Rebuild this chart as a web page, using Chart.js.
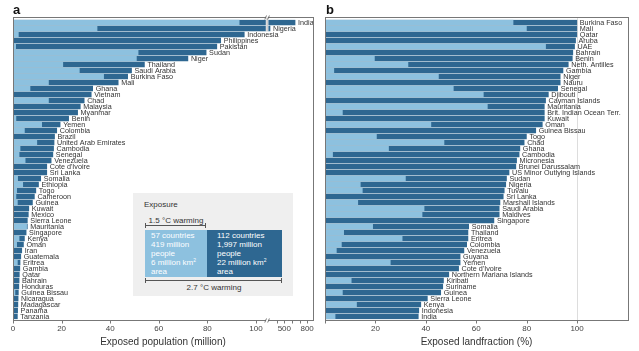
<!DOCTYPE html>
<html>
<head>
<meta charset="utf-8">
<script src="https://cdn.jsdelivr.net/npm/chart.js@4.4.0/dist/chart.umd.min.js"></script>
<style>
  body { margin: 0; background: #fff; font-family: "Liberation Sans", Arial, sans-serif; }
  #wrap { position: relative; width: 639px; height: 351px; overflow: hidden; }
  #cA { position: absolute; left: 0; top: 0; }
  #cB { position: absolute; left: 320px; top: 0; }
  .letter { position: absolute; top: 2px; font-weight: bold; font-size: 13px; color: #111; }
  .abs { position: absolute; }
  #legend { left: 133px; top: 193px; width: 160px; height: 103px; background: #efefef; }
  .txt { position: absolute; font-size: 8px; line-height: 10px; color: #333; white-space: nowrap; }
  .box { position: absolute; top: 230px; height: 47px; color: #fff; font-size: 8px; line-height: 9px; box-sizing: border-box; padding-top: 1px; white-space: nowrap; }
  .box sup { font-size: 5px; vertical-align: 3px; line-height: 0; }
  .brk { position: absolute; height: 0; border-top: 1px solid #555; }
  .brk::before, .brk::after { content: ""; position: absolute; top: -3px; width: 0; height: 5px; border-left: 1px solid #555; }
  .brk::before { left: 0; }
  .brk::after { right: 0; }
</style>
</head>
<body>
<div id="wrap">
  <canvas id="cA" width="320" height="351"></canvas>
  <canvas id="cB" width="319" height="351"></canvas>
  <div class="letter" style="left:13px">a</div>
  <div class="letter" style="left:326px">b</div>

  <div id="legend" class="abs"></div>
  <div class="txt" style="left:144px;top:200px">Exposure</div>
  <div class="txt" style="left:145px;width:62px;top:216px;text-align:center">1.5 °C warming</div>
  <div class="brk" style="left:145px;width:61px;top:225px"></div>
  <div class="box" id="boxLight" style="left:145px;width:62px;padding-left:6px"></div>
  <div class="box" id="boxDark" style="left:207px;width:75px;padding-left:10px"></div>
  <div class="brk" style="left:145px;width:137px;top:280px"></div>
  <div class="txt" style="left:145px;width:138px;top:283px;text-align:center">2.7 °C warming</div>
</div>

<script>
// panel a: exposed population, million people
const countriesA = ["India", "Nigeria", "Indonesia", "Philippines", "Pakistan", "Sudan", "Niger", "Thailand",
  "Saudi Arabia", "Burkina Faso", "Mali", "Ghana", "Vietnam", "Chad", "Malaysia", "Myanmar", "Benin", "Yemen",
  "Colombia", "Brazil", "United Arab Emirates", "Cambodia", "Senegal", "Venezuela", "Cote d'Ivoire", "Sri Lanka",
  "Somalia", "Ethiopia", "Togo", "Cameroon", "Guinea", "Kuwait", "Mexico", "Sierra Leone", "Mauritania",
  "Singapore", "Kenya", "Oman", "Iran", "Guatemala", "Eritrea", "Gambia", "Qatar", "Bahrain", "Honduras",
  "Guinea Bissau", "Nicaragua", "Madagascar", "Panama", "Tanzania"];
const warm15A = [93.1, 34.6, 2.2, 0, 1.1, 51.5, 50.8, 20.5, 27.3, 37.3, 14.6, 7, 0, 14.6, 0, 0, 1.2, 11.8,
  4.7, 0, 9.8, 2.9, 2.5, 5, 0, 0, 1.9, 4, 1.5, 1.2, 1.8, 0, 0, 0, 5.6, 0, 2.5, 1.5, 0, 0, 1.8, 0, 0, 0, 0,
  0.8, 0, 0, 0, 0];
const warm27A = [641, 311.6, 95.2, 85.5, 83.9, 79.5, 72, 54.1, 48.8, 47.2, 43.3, 32.8, 32.2, 29.3, 27.7, 26.6,
  22.9, 19.4, 18, 17.1, 16.9, 16.7, 16.4, 15.7, 13.9, 13.9, 11.4, 10.5, 9.4, 8.8, 8, 6.5, 6.3, 5.9, 5.9, 5.4,
  4.7, 4.3, 3.6, 3.2, 2.9, 2.8, 2.6, 2.5, 2.4, 2.2, 2.1, 2.0, 1.9, 1.8];
const tickValsA = [0, 20, 40, 60, 80, 100, 400, 500, 600, 700, 800];
const tickLabelsA = ["0", "20", "40", "60", "80", "100", "", "500", "", "", "800"];

// panel b: exposed land fraction, %
const countriesB = ["Burkina Faso", "Mali", "Qatar", "Aruba", "UAE", "Bahrain", "Benin", "Neth. Antilles",
  "Gambia", "Niger", "Nauru", "Senegal", "Djibouti", "Cayman Islands", "Mauritania", "Brit. Indian Ocean Terr.",
  "Kuwait", "Oman", "Guinea Bissau", "Togo", "Chad", "Ghana", "Cambodia", "Micronesia", "Brunei Darussalam",
  "US Minor Outlying Islands", "Sudan", "Nigeria", "Tuvalu", "Sri Lanka", "Marshall Islands", "Saudi Arabia",
  "Maldives", "Singapore", "Somalia", "Thailand", "Eritrea", "Colombia", "Venezuela", "Guyana", "Yemen",
  "Cote d'Ivoire", "Northern Mariana Islands", "Kiribati", "Suriname", "Guinea", "Sierra Leone", "Kenya",
  "Indonesia", "India"];
const warm15B = [74.6, 79.9, 0, 0, 87.5, 0, 19.6, 32.9, 3.5, 45, 0, 50.9, 62.8, 0, 64.4, 6.9, 0, 42, 0, 20.4,
  47.2, 25.2, 3, 0, 0, 0, 31.9, 14, 14.8, 0, 13, 39.3, 38.5, 0, 18.9, 7.4, 30.6, 6.5, 4.5, 0, 25.9, 0, 0,
  10.4, 0, 6.9, 0, 12.5, 0, 4];
const warm27B = [99.9, 99.9, 99.9, 99.4, 99, 98.3, 98.1, 96.5, 94.4, 93.3, 93.3, 92.3, 88.6, 87.5, 87, 87, 87,
  86.2, 83.6, 79.9, 79, 77.3, 77, 76, 75.7, 73, 72, 71.7, 71.1, 70.7, 69.4, 69.1, 69.1, 67, 57, 56.7, 56.7,
  56.2, 55.1, 53.6, 53.6, 53, 49.1, 47, 46.7, 45.9, 40.6, 38, 37.2, 37];
const tickValsB = [0, 20, 40, 60, 80, 100];
const tickLabelsB = ["", "20", "40", "60", "80", "100"];

// legend box text
const legendLight = ["57 countries", "419 million", "people", "6 million km<sup>2</sup>", "area"];
const legendDark = ["112 countries", "1,997 million", "people", "22 million km<sup>2</sup>", "area"];

const LIGHT = "#8dc1df";
const DARK = "#2e6791";
const FONT = '"Liberation Sans", Arial, sans-serif';

document.getElementById("boxLight").innerHTML = legendLight.join("<br>");
document.getElementById("boxDark").innerHTML = legendDark.join("<br>");
document.getElementById("boxLight").style.background = LIGHT;
document.getElementById("boxDark").style.background = DARK;

// broken x axis of panel a: linear up to 105, then compressed from 286 on
const BRK_LO = 105, BRK_HI = 286, BRK_K = 0.0313;
function toAxis(v) {
  return v <= BRK_LO ? v : BRK_LO + Math.max(0, v - BRK_HI) * BRK_K;
}

function barLabels(names) {
  return {
    id: "barLabels",
    afterDatasetsDraw(chart) {
      const ctx = chart.ctx;
      const meta = chart.getDatasetMeta(1);
      ctx.save();
      ctx.font = "7.2px " + FONT;
      ctx.fillStyle = "#333";
      ctx.textBaseline = "middle";
      meta.data.forEach((bar, i) => ctx.fillText(names[i], bar.x + 3, bar.y + 0.5));
      ctx.restore();
    }
  };
}

// frame round the plot, a little outside the bars, plus tick marks
function frameEdges(a) {
  return { top: Math.floor(a.top - 2) + 0.5, bot: Math.floor(a.bottom + 1) + 0.5 };
}

function framePlugin(tickPos, gridAt) {
  return {
    id: "frame",
    beforeDatasetsDraw(chart) {
      if (gridAt == null) return;
      const a = chart.chartArea, ctx = chart.ctx, e = frameEdges(a);
      const x = Math.round(chart.scales.x.getPixelForValue(gridAt)) + 0.5;
      ctx.save();
      ctx.strokeStyle = "#ddd";
      ctx.lineWidth = 1;
      ctx.beginPath();
      ctx.moveTo(x, e.top);
      ctx.lineTo(x, e.bot);
      ctx.stroke();
      ctx.restore();
    },
    afterDraw(chart) {
      const a = chart.chartArea, ctx = chart.ctx, e = frameEdges(a);
      ctx.save();
      ctx.strokeStyle = "#777";
      ctx.lineWidth = 1;
      ctx.strokeRect(Math.round(a.left) + 0.5, e.top, Math.round(a.right - a.left), e.bot - e.top);
      ctx.beginPath();
      tickPos.forEach(v => {
        const x = Math.round(chart.scales.x.getPixelForValue(v)) + 0.5;
        ctx.moveTo(x, e.bot);
        ctx.lineTo(x, e.bot + 3);
      });
      ctx.stroke();
      ctx.restore();
    }
  };
}

const breakPlugin = {
  id: "axisBreak",
  afterDraw(chart) {
    const a = chart.chartArea, ctx = chart.ctx, e = frameEdges(a);
    const x = chart.scales.x.getPixelForValue(104.6);
    const bars = chart.getDatasetMeta(1).data;
    ctx.save();
    ctx.fillStyle = "#fff";
    ctx.fillRect(x - 1.3, e.top - 1, 2.6, bars[1].y + 3 - e.top + 1);
    ctx.fillRect(x - 1.3, e.bot - 1, 2.6, 2);
    ctx.strokeStyle = "#999";
    ctx.lineWidth = 0.8;
    ctx.beginPath();
    ctx.moveTo(x, e.top);
    ctx.lineTo(x, bars[1].y + 2.5);
    ctx.stroke();
    ctx.strokeStyle = "#555";
    ctx.beginPath();
    [e.top, e.bot].forEach(y => {
      ctx.moveTo(x - 2.3, y + 2); ctx.lineTo(x - 0.6, y - 2);
      ctx.moveTo(x + 0.6, y + 2); ctx.lineTo(x + 2.3, y - 2);
    });
    ctx.stroke();
    ctx.restore();
  }
};

function makeChart(id, names, lightVals, darkVals, xMax, tickVals, tickLabels, title, pad, extra) {
  const ctx = document.getElementById(id).getContext("2d");
  return new Chart(ctx, {
    type: "bar",
    data: {
      labels: names,
      datasets: [
        { label: "1.5 °C", data: lightVals, backgroundColor: LIGHT, grouped: false, barThickness: 5 },
        { label: "2.7 °C", data: darkVals, backgroundColor: DARK, grouped: false, barThickness: 5 }
      ]
    },
    options: {
      indexAxis: "y",
      responsive: false,
      animation: false,
      layout: { padding: pad },
      plugins: { legend: { display: false }, tooltip: { enabled: false } },
      scales: {
        y: { type: "category", display: false, offset: true },
        x: {
          type: "linear",
          min: 0,
          max: xMax,
          grid: { display: false, drawTicks: false },
          border: { display: false },
          afterBuildTicks: s => { s.ticks = tickVals.map(v => ({ value: v })); },
          afterFit: s => { s.height = 31.5; },
          ticks: {
            autoSkip: false,
            maxRotation: 0,
            padding: 4,
            color: "#444",
            font: { family: FONT, size: 8 },
            callback: (v, i) => tickLabels[i]
          },
          title: {
            display: true,
            text: title,
            color: "#333",
            font: { family: FONT, size: 10 },
            padding: { top: 0, bottom: 3 }
          }
        }
      }
    },
    plugins: [framePlugin(tickVals, extra.gridAt), barLabels(names)].concat(extra.more || [])
  });
}

// chart area 19.5..319.5 gives 6 px rows, so 5 px bars land on whole pixels
makeChart("cA", countriesA, warm15A.map(toAxis), warm27A.map(toAxis), 123.5,
  tickValsA.map(toAxis), tickLabelsA, "Exposed population (million)",
  { left: 13, right: 7, top: 19.5, bottom: 0 }, { more: [breakPlugin] });

makeChart("cB", countriesB, warm15B, warm27B, 120.2,
  tickValsB, tickLabelsB, "Exposed landfraction (%)",
  { left: 5, right: 11, top: 19.5, bottom: 0 }, { gridAt: 100 });
</script>
</body>
</html>
